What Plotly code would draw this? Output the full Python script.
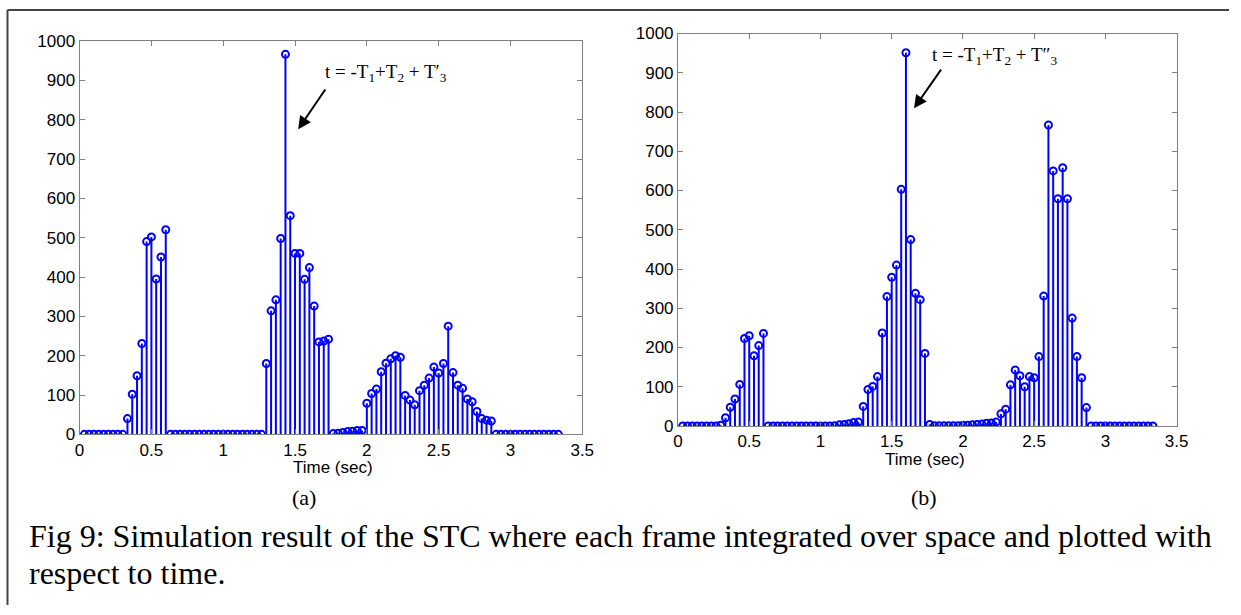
import plotly.graph_objects as go

W, H = 1241, 615

# frame index -> time (30 frames per second)
frame_idx = list(range(1, 101))
time_sec = [k / 30.0 for k in frame_idx]

values_a = [
    0, 0, 0, 0, 0, 0, 0, 0, 0,
    40, 102, 149, 231, 490, 502, 395, 451, 520,
    0, 0, 0, 0, 0, 0, 0, 0, 0, 0, 0, 0, 0, 0, 0, 0, 0, 0, 0, 0,
    180, 314, 342, 498, 966, 556, 460, 460, 394, 424, 326, 235, 237, 242,
    2, 3, 5, 7, 8, 10, 10,
    79, 104, 115, 159, 181, 192, 200, 196, 99, 87, 75, 111, 125, 143, 171, 156,
    180, 275, 157, 125, 117, 90, 83, 58, 40, 36, 34,
    0, 0, 0, 0, 0, 0, 0, 0, 0, 0, 0, 0, 0, 0,
]

values_b = [
    0, 0, 0, 0, 0, 0, 0, 0, 2,
    21, 48, 69, 106, 223, 230, 179, 205, 236,
    0, 0, 0, 0, 0, 0, 0, 0, 0, 0, 0, 0, 0, 0,
    1, 3, 4, 6, 9, 10,
    50, 93, 101, 126, 237, 330, 379, 410, 603, 951, 475, 338, 322, 185,
    4, 1, 1, 1, 1, 1, 1, 2, 2, 3, 4, 5, 7, 8, 10,
    31, 43, 105, 143, 128, 100, 126, 123, 177, 331, 767, 650, 579, 658, 579,
    275, 177, 123, 47,
    0, 0, 0, 0, 0, 0, 0, 0, 0, 0, 0, 0, 0, 0,
]

x_ticks = [0, 0.5, 1, 1.5, 2, 2.5, 3, 3.5]
x_tick_text = ["0", "0.5", "1", "1.5", "2", "2.5", "3", "3.5"]
y_ticks = [0, 100, 200, 300, 400, 500, 600, 700, 800, 900, 1000]
y_tick_text = [str(v) for v in y_ticks]

BLUE = "#0000FF"

# the photographed page is framed slightly; map target picture pixels to page pixels
SX, OX = 0.985, 5.5
SY, OY = 0.969, 8.0


def px(x):
    return ((x - OX) / SX) / W


def py(y):
    return 1 - ((y - OY) / SY) / H


def stem_xy(ts, vs):
    xs, ys = [], []
    for t, v in zip(ts, vs):
        xs += [t, t, None]
        ys += [0, v, None]
    return xs, ys


fig = go.Figure()

for vals, xa, ya in [(values_a, "x", "y"), (values_b, "x2", "y2")]:
    sx, sy = stem_xy(time_sec, vals)
    fig.add_trace(go.Scatter(x=sx, y=sy, mode="lines", xaxis=xa, yaxis=ya,
                             line=dict(color=BLUE, width=2), hoverinfo="skip",
                             showlegend=False))
    fig.add_trace(go.Scatter(x=time_sec, y=vals, mode="markers", xaxis=xa, yaxis=ya,
                             marker=dict(symbol="circle-open", size=7, color=BLUE,
                                         line=dict(color=BLUE, width=2)),
                             showlegend=False))

tick_font = dict(family="Liberation Sans, Arial", size=17, color="black")
ax_common = dict(showgrid=False, zeroline=False, showline=True, linecolor="#808080",
                 linewidth=1, mirror="allticks", ticks="inside", ticklen=5,
                 tickcolor="#808080", tickfont=tick_font)

fig.update_layout(
    width=W, height=H,
    margin=dict(l=0, r=0, t=0, b=0),
    paper_bgcolor="white", plot_bgcolor="white",
    xaxis=dict(domain=[px(80), px(582)], range=[0, 3.5], tickvals=x_ticks,
               ticktext=x_tick_text, anchor="y", **ax_common),
    yaxis=dict(domain=[py(433.3), py(40)], range=[0, 1000], tickvals=y_ticks,
               ticktext=y_tick_text, anchor="x", ticklabelstandoff=0, **ax_common),
    xaxis2=dict(domain=[px(677.6), px(1175.6)], range=[0, 3.5], tickvals=x_ticks,
                ticktext=x_tick_text, anchor="y2", **ax_common),
    yaxis2=dict(domain=[py(425), py(32.5)], range=[0, 1000], tickvals=y_ticks,
                ticktext=y_tick_text, anchor="x2", ticklabelstandoff=0, **ax_common),
)

serif = "Liberation Serif, Times New Roman"
sans = "Liberation Sans, Arial"
anns = []
anns.append(dict(text="Time (sec)", x=px(333), y=py(466), xref="paper", yref="paper",
                 showarrow=False, font=dict(family=sans, size=17, color="black"),
                 xanchor="center", yanchor="middle"))
anns.append(dict(text="Time (sec)", x=px(924), y=py(458), xref="paper", yref="paper",
                 showarrow=False, font=dict(family=sans, size=17, color="black"),
                 xanchor="center", yanchor="middle"))
anns.append(dict(text="t = -T<sub>1</sub>+T<sub>2</sub> + T′<sub>3</sub>", x=px(323), y=py(72),
                 xref="paper", yref="paper", showarrow=False,
                 font=dict(family=serif, size=19, color="black"), xanchor="left", yanchor="middle"))
anns.append(dict(text="t = -T<sub>1</sub>+T<sub>2</sub> + T″<sub>3</sub>", x=px(929), y=py(55),
                 xref="paper", yref="paper", showarrow=False,
                 font=dict(family=serif, size=19, color="black"), xanchor="left", yanchor="middle"))
anns.append(dict(text="", x=px(298.3), y=py(128.3), xref="paper", yref="paper",
                 ax=28.1, ay=-41.3, axref="pixel", ayref="pixel", showarrow=True,
                 arrowhead=2, arrowsize=1.3, arrowwidth=2, arrowcolor="black"))
anns.append(dict(text="", x=px(913.3), y=py(107.3), xref="paper", yref="paper",
                 ax=28.1, ay=-40.2, axref="pixel", ayref="pixel", showarrow=True,
                 arrowhead=2, arrowsize=1.3, arrowwidth=2, arrowcolor="black"))
anns.append(dict(text="(a)", x=px(304), y=py(496), xref="paper", yref="paper", showarrow=False,
                 font=dict(family=serif, size=22, color="black"), xanchor="center", yanchor="middle"))
anns.append(dict(text="(b)", x=px(923), y=py(496), xref="paper", yref="paper", showarrow=False,
                 font=dict(family=serif, size=22, color="black"), xanchor="center", yanchor="middle"))
anns.append(dict(text="Fig 9: Simulation result of the STC where each frame integrated over space and plotted with",
                 x=px(27), y=py(535), xref="paper", yref="paper", showarrow=False,
                 font=dict(family=serif, size=32, color="black"), xanchor="left", yanchor="middle"))
anns.append(dict(text="respect to time.",
                 x=px(27), y=py(572), xref="paper", yref="paper", showarrow=False,
                 font=dict(family=serif, size=32, color="black"), xanchor="left", yanchor="middle"))
fig.update_layout(annotations=anns)

# outer frame (left and top edges visible)
fx = px(8)
fig.add_shape(type="line", xref="paper", yref="paper", x0=fx, x1=fx, y0=0, y1=1 - 1 / H,
              line=dict(color="#444444", width=2))
fig.add_shape(type="line", xref="paper", yref="paper", x0=fx, x1=1, y0=1 - 1 / H, y1=1 - 1 / H,
              line=dict(color="#444444", width=2))

fig.write_html("out.html", config={"displayModeBar": False},
               post_script="document.body.style.margin='0px';document.body.style.overflow='hidden';")
